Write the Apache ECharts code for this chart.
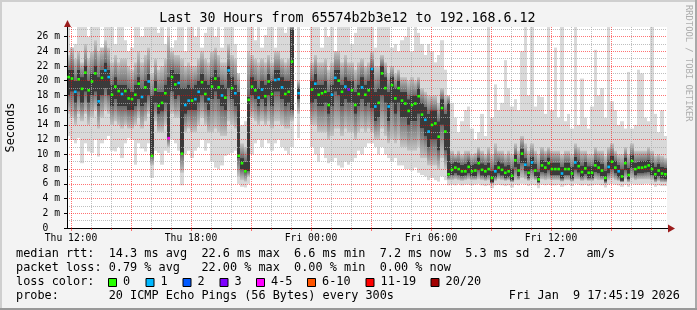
<!DOCTYPE html>
<html><head><meta charset="utf-8">
<script src="https://cdn.jsdelivr.net/npm/echarts@6/dist/echarts.min.js"></script>
<style>html,body{margin:0;padding:0;background:#f3f3f3}#c{width:697px;height:310px}</style>
</head><body><div id="c"></div>
<script>
// time axis in hours after Thu 00:00; one slot = 10 minutes
const START_H = 11.8;
const STEP_H = 1 / 6;
const X_MIN = 11.8, X_MAX = 41.8;
const Y_MAX = 27.3;

// median rtt (ms) per slot
const med = [
20.5,20.3,18.5,20.2,18.9,21.1,18.7,19.9,21.0,17.2,
20.4,21.4,20.5,18.1,19.2,18.6,18.2,18.6,17.6,17.5,
18.1,19.6,17.8,19.1,19.9,9.8,18.8,16.6,17.0,18.3,
12.2,20.5,19.5,19.7,10.1,16.7,17.3,17.3,17.5,18.5,
19.8,18.2,17.5,19.2,20.3,19.1,18.0,17.7,21.4,19.0,
18.3,9.8,8.8,7.7,17.4,19.2,18.7,17.7,18.8,17.9,
19.9,18.2,20.1,20.2,19.1,18.2,18.5,22.6,null,18.3,
null,null,null,18.8,19.6,18.1,18.3,18.5,16.7,18.1,
20.4,20.0,18.5,19.2,18.8,18.7,16.7,18.2,19.1,18.1,
18.7,21.6,16.5,17.0,21.0,19.0,16.5,19.4,17.6,19.0,
17.3,16.9,15.9,16.7,16.9,17.9,15.4,14.7,13.1,14.0,
14.2,12.4,16.3,13.1,7.3,7.9,8.2,8.0,7.7,7.7,
8.3,7.7,7.8,8.8,7.9,7.7,8.0,6.8,7.7,8.2,
7.9,7.5,7.7,7.1,9.2,7.8,10.1,8.6,7.5,8.9,
7.8,6.6,8.5,8.2,8.8,8.0,8.0,8.0,7.4,8.0,
8.0,7.4,8.9,8.4,7.6,8.1,7.5,7.5,8.5,8.2,
7.8,6.8,8.3,9.0,8.2,7.7,7.0,8.8,7.2,9.1,
8.0,8.2,8.2,8.3,8.5,8.0,7.3,7.8,7.4,7.3];

// lost pings (of 20) per slot
const loss = [
0,0,1,0,0,0,0,0,0,1, 0,1,1,0,0,0,1,0,0,0, 0,0,1,0,1,0,0,0,0,0,
4,0,0,1,0,1,1,0,1,1, 0,0,1,0,0,0,1,0,1,0, 1,0,0,0,0,0,0,1,1,0,
0,0,1,1,1,0,0,0,0,1, 0,0,0,0,1,0,0,0,0,1, 1,0,0,1,3,0,0,0,1,0,
0,1,1,0,0,0,1,0,0,0, 0,0,0,0,0,0,0,1,1,0, 0,0,0,0,0,0,0,0,0,0,
0,0,0,0,0,0,0,0,1,0, 0,0,0,0,0,0,0,1,0,1, 0,0,0,0,0,0,0,0,1,0,
0,0,1,0,0,0,0,0,0,0, 0,0,1,0,0,1,0,0,0,0, 0,0,0,0,0,0,0,0,0,0];

// smoke: highest ping (ms)
const hi = [
27.5,24.5,25.0,27.5,27.5,27.5,26.0,27.5,27.5,27.5,
24.5,27.5,27.5,27.5,25.0,27.5,27.5,25.5,24.0,24.5,
27.5,27.5,26.0,27.5,27.5,27.5,27.5,26.5,27.5,25.0,
27.5,24.5,25.5,27.5,27.5,24.0,27.5,27.5,26.0,27.5,
24.5,26.5,27.5,27.5,26.0,27.5,24.5,27.5,27.5,27.5,
25.0,15.0,14.0,14.5,27.5,27.5,25.5,27.5,24.5,26.2,
27.5,27.5,24.5,27.5,27.5,26.5,27.5,27.5,null,27.5,
null,null,null,27.5,27.5,27.5,24.5,27.5,26.0,27.5,
24.0,27.5,27.5,27.5,27.5,25.0,26.5,27.5,27.5,27.5,
27.5,27.5,24.5,27.5,27.5,27.5,27.5,24.5,25.0,24.0,
25.5,26.0,27.5,24.0,27.5,26.5,25.0,23.5,25.0,24.0,
22.5,23.5,25.5,21.5,13.5,17.0,15.0,13.0,14.5,16.0,
16.5,13.5,12.0,13.0,15.5,12.5,27.5,15.0,19.5,16.0,
17.0,22.8,19.0,16.5,17.5,16.0,24.0,27.5,18.0,27.5,
16.5,18.0,17.8,15.5,27.5,16.0,24.5,15.0,27.5,14.5,
15.5,13.5,27.5,14.0,20.3,15.0,13.5,16.5,24.2,18.0,
19.0,15.0,27.5,17.2,16.0,14.0,14.5,13.5,21.2,13.5,
14.0,21.5,21.0,15.0,14.5,27.5,15.5,13.0,16.0,12.5];

// smoke: upper edge of the mid-grey band
const up = [
23.5,24.5,23.0,24.0,22.5,25.0,23.0,24.0,25.5,24.0,
24.5,25.5,24.5,22.5,23.5,22.5,23.0,23.0,22.0,21.5,
22.5,24.0,22.5,23.5,24.5,21.0,23.0,21.5,22.0,23.0,
26.0,24.0,23.5,23.5,23.0,22.0,22.5,22.0,22.0,23.0,
24.0,23.0,22.5,24.0,24.5,23.5,22.5,22.5,25.0,23.5,
23.0,21.0,11.5,11.0,24.0,23.5,23.0,22.5,23.0,22.5,
23.5,22.5,24.0,24.0,23.0,22.5,23.0,27.5,null,20.0,
null,null,null,22.5,23.5,22.5,22.5,23.0,21.5,22.5,
24.0,24.0,22.5,23.5,22.5,22.5,21.5,22.5,23.0,22.0,
22.5,24.0,22.0,22.0,23.5,22.5,21.0,22.0,21.0,21.5,
20.5,20.5,20.0,20.5,20.0,20.5,19.0,18.5,18.0,18.0,
18.0,17.0,19.0,18.0,18.0,10.5,10.0,10.5,10.0,10.5,
10.5,10.0,10.2,11.0,10.5,10.0,11.0,10.0,11.5,10.5,
10.5,10.0,10.5,10.0,11.5,10.5,12.5,11.5,10.5,11.5,
10.5,10.0,11.0,10.5,11.0,10.5,10.5,10.5,10.0,10.5,
10.5,10.0,11.5,11.0,10.5,10.5,10.0,10.0,11.0,10.5,
10.5,9.8,11.0,11.5,10.5,10.0,10.0,11.0,10.0,11.5,
10.5,10.5,10.5,10.5,11.0,10.5,9.8,10.0,9.8,9.5];

// smoke: top of the dark core
const chi = [
21.5,21.5,20.0,21.5,20.5,22.0,20.0,21.0,22.0,20.5,
21.5,22.5,21.5,19.5,20.5,19.5,19.5,19.5,19.0,18.5,
19.5,20.5,19.0,20.0,21.0,18.0,20.0,18.5,18.5,19.5,
20.5,21.5,21.0,21.0,19.0,19.0,19.5,19.0,19.5,20.0,
21.0,20.0,19.5,20.5,21.5,20.5,19.5,19.0,22.0,20.5,
19.5,18.5,9.5,9.0,17.8,20.5,20.0,19.0,20.0,19.5,
21.0,20.0,21.5,21.5,20.5,20.0,20.0,27.0,null,19.0,
null,null,null,20.0,21.0,19.5,19.5,20.0,18.5,19.5,
21.5,21.5,19.5,20.5,20.0,20.0,18.5,19.5,20.5,19.5,
20.0,21.8,18.5,19.0,22.0,20.5,18.5,20.5,19.0,20.0,
18.5,18.5,17.5,18.0,18.0,19.0,17.0,16.5,15.5,16.0,
16.0,14.5,17.5,15.5,17.0,8.8,9.0,8.9,8.6,8.7,
9.2,8.6,8.7,9.6,8.8,8.6,8.9,7.8,8.6,9.1,
8.8,8.4,8.6,8.1,10.0,8.7,10.8,9.5,8.4,9.7,
8.7,7.6,9.3,9.0,9.6,8.9,8.9,8.9,8.3,8.9,
8.9,8.3,9.7,9.2,8.5,9.0,8.4,8.4,9.3,9.1,
8.7,7.8,9.2,9.8,9.1,8.6,8.0,9.6,8.2,9.9,
8.9,9.0,9.1,9.1,9.3,8.9,8.3,8.7,8.3,8.2];

// smoke: bottom of the dark core
const clo = [
18.0,18.5,17.0,18.5,17.0,18.5,17.0,18.0,18.5,16.5,
18.0,19.0,18.0,16.5,17.5,16.5,16.5,16.5,16.0,16.0,
16.5,17.5,16.5,17.0,18.0,9.8,17.0,15.5,15.8,17.0,
12.2,18.5,17.5,18.0,10.1,15.5,16.0,16.0,16.0,17.0,
18.0,17.0,16.0,17.5,18.5,17.5,16.5,16.0,19.0,17.5,
16.5,9.5,8.0,7.5,7.7,18.0,17.5,16.5,17.5,16.5,
18.0,16.5,18.5,18.5,17.5,16.5,17.0,16.0,null,17.5,
null,null,null,17.0,17.5,16.5,16.5,17.0,15.5,16.5,
18.5,18.0,16.5,17.5,17.0,17.0,15.5,16.5,17.5,16.5,
17.0,16.3,14.5,15.0,18.0,17.0,14.5,17.0,15.5,17.0,
15.0,15.0,14.0,14.5,14.5,15.5,13.5,12.5,11.0,12.0,
12.0,10.5,14.0,10.5,7.0,7.2,7.4,7.2,7.0,7.1,
7.4,7.0,7.0,7.8,7.1,6.9,7.2,6.2,6.9,7.4,
7.1,6.8,6.9,6.5,8.2,7.0,8.8,7.7,6.8,7.9,
7.0,6.2,7.6,7.4,7.8,7.2,7.2,7.2,6.7,7.2,
7.2,6.7,7.9,7.5,6.9,7.3,6.8,6.8,7.6,7.4,
7.0,6.3,7.4,8.0,7.4,6.9,6.4,7.8,6.6,8.1,
7.2,7.4,7.4,7.5,7.6,7.2,6.6,7.0,6.7,6.6];

// smoke: lower edge of the mid-grey band
const dn = [
15.5,15.0,14.0,15.5,14.5,15.5,14.0,15.0,16.0,13.5,
15.0,16.0,15.5,14.0,14.5,14.0,13.5,14.0,13.5,13.5,
14.0,15.0,13.5,14.5,15.5,8.5,14.5,13.0,13.0,14.0,
11.0,15.5,15.0,15.0,7.5,13.0,13.5,13.0,13.0,14.0,
15.0,14.0,13.0,13.0,13.5,13.0,12.5,12.5,14.5,14.0,
13.5,7.0,6.5,6.3,7.0,15.0,14.5,14.0,14.5,14.0,
14.5,13.5,14.5,14.5,14.0,13.5,13.5,14.5,null,15.5,
null,null,null,14.0,14.0,13.0,13.0,13.0,12.0,12.5,
13.5,13.5,12.5,13.5,13.0,13.0,12.0,13.0,13.5,13.0,
13.5,13.0,12.0,12.0,13.5,12.5,11.5,12.0,11.5,12.0,
11.0,11.0,10.5,10.5,10.5,11.0,9.5,9.5,8.5,8.5,
8.5,8.0,9.5,8.0,6.5,6.5,6.6,6.5,6.4,6.5,
6.6,6.5,6.5,6.6,6.5,6.4,6.5,6.0,6.4,6.6,
6.5,6.4,6.5,6.2,6.5,6.5,6.8,6.6,6.4,6.6,
6.5,6.0,6.6,6.5,6.6,6.5,6.5,6.5,6.3,6.5,
6.5,6.3,6.6,6.6,6.4,6.5,6.4,6.4,6.6,6.5,
6.5,6.0,6.5,6.7,6.5,6.4,6.2,6.6,6.2,6.7,
6.5,6.6,6.6,6.6,6.6,6.5,6.2,6.4,6.2,6.2];

// smoke: lowest ping (ms)
const lo = [
12.5,12.0,11.5,12.2,8.8,11.5,10.4,10.2,12.0,9.7,
11.5,12.0,12.5,10.5,10.4,11.0,9.5,11.5,12.2,12.0,
8.6,11.5,10.8,10.4,11.5,6.8,10.5,10.2,8.6,10.5,
10.2,12.0,11.5,10.5,5.8,10.0,10.5,9.5,10.5,11.0,
12.0,10.5,11.5,9.0,8.2,8.0,8.5,9.8,10.0,10.2,
10.5,6.0,5.6,5.5,6.0,10.0,11.5,12.0,11.0,12.0,
11.5,10.5,11.5,12.0,11.0,10.5,10.0,11.0,null,12.2,
null,null,null,11.0,10.0,9.0,11.0,9.5,8.8,9.0,
9.5,8.5,8.2,9.0,8.6,9.0,9.5,10.5,10.0,11.0,
11.5,11.5,11.0,10.0,11.0,10.0,9.5,9.0,9.5,8.5,
8.5,8.0,8.0,7.8,8.2,7.5,7.2,7.0,6.5,6.8,
6.5,6.3,7.0,6.5,5.8,5.9,5.8,6.0,5.8,5.9,
5.9,5.8,5.9,6.0,5.8,5.7,5.8,5.4,5.8,5.9,
5.8,5.7,5.8,5.5,5.9,5.8,6.0,5.9,5.7,5.9,
5.8,5.4,5.9,5.8,5.9,5.8,5.8,5.9,5.6,5.8,
5.9,5.7,6.0,5.9,5.8,5.9,5.7,5.8,5.9,5.9,
5.8,5.5,5.9,6.0,5.9,5.8,5.6,5.9,5.6,6.0,
5.9,5.9,5.9,6.0,6.0,5.9,5.6,5.8,5.7,5.7];

// ticks (hours after Thu 00:00, ms)
const xLabelTicks = [12, 18, 24, 30, 36];
const xLabelText = ['Thu 12:00', 'Thu 18:00', 'Fri 00:00', 'Fri 06:00', 'Fri 12:00'];
const xMajorTicks = [12, 15, 18, 21, 24, 27, 30, 33, 36, 39];
const xMinorTicks = [13, 14, 16, 17, 19, 20, 22, 23, 25, 26, 28, 29, 31, 32, 34, 35, 37, 38, 40, 41];
const yMajorTicks = [0, 2, 4, 6, 8, 10, 12, 14, 16, 18, 20, 22, 24, 26];
const yMinorTicks = [1, 3, 5, 7, 9, 11, 13, 15, 17, 19, 21, 23, 25, 27];

// loss legend
const lossLabels = ['0', '1', '2', '3', '4-5', '6-10', '11-19', '20/20'];
const lossColors = ['#26ff00', '#00b8ff', '#0059ff', '#7e00ff', '#ff00ff', '#ff5500', '#ff0000', '#a10000'];

const MONO = '"DejaVu Sans Mono", "Liberation Mono", monospace';
const GRID_C = 'rgba(170,170,170,0.75)';
const MGRID_C = 'rgba(255,0,0,0.55)';
const LEG = 11.85;

function lossIndex(n) {
  if (n <= 3) return n;
  if (n <= 5) return 4;
  if (n <= 10) return 5;
  if (n <= 19) return 6;
  return 7;
}

const times = med.map((_, i) => START_H + (i + 0.5) * STEP_H);
const nz = v => (v == null ? '-' : v);
const smokeData = times.map((t, i) => [t, nz(lo[i]), nz(dn[i]), nz(clo[i]), nz(chi[i]), nz(up[i]), nz(hi[i])]);
const medData = times.map((t, i) => [t, nz(med[i]), loss[i]]);

const gradUp = new echarts.graphic.LinearGradient(0, 0, 0, 1, [{offset: 0, color: '#c6c6c6'}, {offset: 1, color: '#6a6a6a'}]);
const gradDn = new echarts.graphic.LinearGradient(0, 0, 0, 1, [{offset: 0, color: '#6a6a6a'}, {offset: 1, color: '#c6c6c6'}]);

function smokeItem(params, api) {
  const t = api.value(0);
  const v = [1, 2, 3, 4, 5, 6].map(d => api.value(d));
  if (v.some(x => isNaN(x))) return null;
  const [l, d, cl, ch, u, h] = v;
  const xa = Math.round(api.coord([t - STEP_H / 2, 0])[0]);
  const xb = Math.round(api.coord([t + STEP_H / 2, 0])[0]);
  const w = xb - xa;
  const Y = val => api.coord([t, val])[1];
  const rect = (top, bot, fill) => ({
    type: 'rect', shape: {x: xa, y: Y(top), width: w, height: Math.max(0.5, Y(bot) - Y(top))},
    style: {fill: fill}
  });
  return {type: 'group', children: [
    rect(h, l, '#d9d9d9'),
    rect(u, ch, gradUp),
    rect(cl, d, gradDn),
    rect(ch, cl, '#3a3a3a')
  ]};
}

function dotItem(params, api) {
  const t = api.value(0), m = api.value(1), n = api.value(2);
  if (isNaN(m)) return null;
  const p = api.coord([t, m]);
  const s = 2.6;
  return {type: 'rect', shape: {x: p[0] - s / 2, y: p[1] - s / 2, width: s, height: s},
    style: {fill: lossColors[lossIndex(n)]}};
}

function txt(x, y, s, size, extra) {
  return Object.assign({
    type: 'text', x: x, y: y,
    style: Object.assign({text: s, font: size + 'px ' + MONO, fill: '#000',
      align: 'left', verticalAlign: 'middle', textAlign: 'left', textVerticalAlign: 'middle'}, (extra && extra.style) || {})
  }, extra ? {rotation: extra.rotation || 0} : {});
}

const graphics = [
  // frame
  {type: 'rect', shape: {x: 0, y: 0, width: 697, height: 2}, style: {fill: '#cfcfcf'}},
  {type: 'rect', shape: {x: 0, y: 0, width: 2, height: 310}, style: {fill: '#cfcfcf'}},
  {type: 'rect', shape: {x: 695, y: 0, width: 2, height: 310}, style: {fill: '#a9a9a9'}},
  {type: 'rect', shape: {x: 0, y: 308, width: 697, height: 2}, style: {fill: '#999999'}},
  // title
  txt(347.5, 19, 'Last 30 Hours from 65574b2b3e12 to 192.168.6.12', 13.3, {style: {align: 'center', textAlign: 'center'}}),
  // y title
  txt(10.5, 127.5, 'Seconds', LEG, {rotation: Math.PI / 2, style: {align: 'center', textAlign: 'center'}}),
  // side credit
  txt(688.5, 5, 'RRDTOOL / TOBI OETIKER', 8.8, {rotation: -Math.PI / 2, style: {fill: '#adadad', verticalAlign: 'middle'}}),
  // arrows
  {type: 'polygon', shape: {points: [[64, 27], [67.5, 20], [71, 27]]}, style: {fill: '#9b1c1c'}, z: 10},
  {type: 'line', shape: {x1: 667, y1: 228.5, x2: 670, y2: 228.5}, style: {stroke: '#000', lineWidth: 1}},
  {type: 'polygon', shape: {points: [[668, 224.5], [675, 228.5], [668, 232.5]]}, style: {fill: '#9b1c1c'}, z: 10},
  // legend lines
  txt(16, 254, 'median rtt:  14.3 ms avg  22.6 ms max  6.6 ms min  7.2 ms now  5.3 ms sd  2.7   am/s', LEG),
  txt(16, 268, 'packet loss: 0.79 % avg   22.00 % max  0.00 % min  0.00 % now', LEG),
  txt(16, 282, 'loss color:', LEG),
  txt(16, 296, 'probe:       20 ICMP Echo Pings (56 Bytes) every 300s', LEG),
  txt(680, 296, 'Fri Jan  9 17:45:19 2026', LEG, {style: {align: 'right', textAlign: 'right'}})
];
const boxX = [108, 145.5, 182.5, 219.5, 256, 307, 365.5, 430.5];
lossLabels.forEach((lab, k) => {
  graphics.push({type: 'rect', shape: {x: boxX[k] + 0.5, y: 278.5, width: 8, height: 8},
    style: {fill: lossColors[k], stroke: '#000', lineWidth: 1}});
  graphics.push(txt(boxX[k] + 15, 282, lab, LEG));
});

const baseX = {type: 'value', min: X_MIN, max: X_MAX, position: 'bottom', z: 3};
const baseY = {type: 'value', min: 0, max: Y_MAX, position: 'left', z: 3};

const option = {
  animation: false,
  backgroundColor: '#f3f3f3',
  textStyle: {fontFamily: MONO},
  grid: {left: 67, top: 27, width: 600, height: 201, show: true, backgroundColor: '#ffffff',
    borderWidth: 0, containLabel: false, outerBoundsMode: 'none'},
  xAxis: [
    Object.assign({}, baseX, {
      axisLine: {show: true, onZero: false, lineStyle: {color: '#000', width: 1}},
      axisTick: {show: false, customValues: xLabelTicks},
      axisLabel: {customValues: xLabelTicks, color: '#000', fontFamily: MONO, fontSize: 9.7, margin: 5,
        formatter: v => { const k = xLabelTicks.findIndex(h => Math.abs(h - v) < 1e-6); return k >= 0 ? xLabelText[k] : ''; }},
      splitLine: {show: false}
    }),
    Object.assign({}, baseX, {
      axisLine: {show: false}, axisLabel: {show: false},
      axisTick: {show: true, customValues: xMinorTicks, length: 2, lineStyle: {color: MGRID_C}},
      splitLine: {show: true, lineStyle: {color: GRID_C, type: [1, 1], width: 1}}
    }),
    Object.assign({}, baseX, {
      axisLine: {show: false}, axisLabel: {show: false},
      axisTick: {show: true, customValues: xMajorTicks, length: 3, lineStyle: {color: MGRID_C}},
      splitLine: {show: true, lineStyle: {color: MGRID_C, type: [1, 1], width: 1}}
    })
  ],
  yAxis: [
    Object.assign({}, baseY, {
      axisLine: {show: false}, axisLabel: {show: false},
      axisTick: {show: false, customValues: yMinorTicks},
      splitLine: {show: true, lineStyle: {color: GRID_C, type: [1, 1], width: 1}}
    }),
    Object.assign({}, baseY, {
      axisLine: {show: true, onZero: false, lineStyle: {color: '#000', width: 1}},
      axisTick: {show: true, customValues: yMajorTicks, length: 3, lineStyle: {color: '#000'}},
      axisLabel: {customValues: yMajorTicks, color: '#000', fontFamily: MONO, fontSize: 9.7, margin: 7,
        formatter: v => (v === 0 ? '0  ' : v + ' m')},
      splitLine: {show: true, lineStyle: {color: MGRID_C, type: [1, 1], width: 1}}
    })
  ],
  graphic: graphics,
  series: [
    {type: 'custom', name: 'smoke', xAxisIndex: 0, yAxisIndex: 0, z: 2, clip: true,
      renderItem: smokeItem, data: smokeData, silent: true},
    {type: 'custom', name: 'median', xAxisIndex: 0, yAxisIndex: 0, z: 5, clip: true,
      renderItem: dotItem, data: medData, silent: true}
  ]
};
const chart = echarts.init(document.getElementById('c'), null, {renderer: 'canvas', width: 697, height: 310});
chart.setOption(option);
</script></body></html>
